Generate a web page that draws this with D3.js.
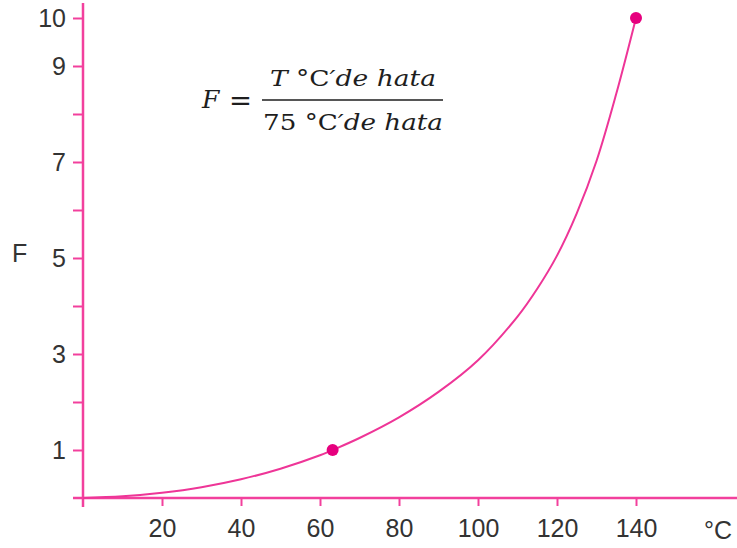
<!DOCTYPE html>
<html>
<head>
<meta charset="utf-8">
<script src="https://cdn.jsdelivr.net/npm/d3@7"></script>
<style>
  html, body { margin: 0; padding: 0; background: #fff; }
  svg { display: block; }
</style>
</head>
<body>
<svg id="chart" width="737" height="548"></svg>
<script>
// Temperature (°C) and relative lethality F along the curve
const temperatures = [0, 10, 20, 30, 40, 50, 60, 63.2, 70, 80, 90, 100, 110, 115, 120, 125, 130, 135, 140];
const fValues      = [0, 0.035, 0.11, 0.225, 0.39, 0.61, 0.89, 1.0, 1.25, 1.68, 2.21, 2.87, 3.78, 4.36, 5.05, 5.93, 7.02, 8.42, 10];
// Highlighted points on the curve
const markedT = [63.2, 140];
const markedF = [1, 10];
// Tick values and labels
const xTicks = [20, 40, 60, 80, 100, 120, 140];
const yTicks = [1, 2, 3, 4, 5, 6, 7, 8, 9, 10];
const yLabelled = [1, 3, 5, 7, 9, 10];

const axisColor = "#f2409d";
const curveColor = "#ee3597";
const dotColor = "#e6007e";
const textColor = "#333333";
const sans = "'Liberation Sans', Arial, sans-serif";

const svg = d3.select("#chart");
const x = d3.scaleLinear().domain([0, 140]).range([83, 636]);
const y = d3.scaleLinear().domain([0, 10]).range([498, 18]);

// Axes
const yAxis = d3.axisLeft(y)
  .tickValues(yTicks)
  .tickSize(10)
  .tickSizeOuter(0)
  .tickPadding(7)
  .tickFormat(d => yLabelled.includes(d) ? d : "");
const gy = svg.append("g").attr("transform", `translate(${x(0)},0)`).call(yAxis);
gy.select(".domain").remove();
gy.selectAll(".tick line").attr("stroke", axisColor).attr("stroke-width", 2);
gy.selectAll(".tick text")
  .attr("fill", textColor)
  .style("font-family", sans)
  .style("font-size", "25px");

const xAxis = d3.axisBottom(x)
  .tickValues(xTicks)
  .tickSize(8)
  .tickSizeOuter(0)
  .tickPadding(13)
  .tickFormat(d3.format("d"));
const gx = svg.append("g").attr("transform", `translate(0,${y(0)})`).call(xAxis);
gx.select(".domain").remove();
gx.selectAll(".tick line").attr("stroke", axisColor).attr("stroke-width", 2);
gx.selectAll(".tick text")
  .attr("fill", textColor)
  .style("font-family", sans)
  .style("font-size", "25px");

// Axis lines, extended past the origin
svg.append("line")
  .attr("x1", x(0) - 10).attr("x2", 737)
  .attr("y1", y(0)).attr("y2", y(0))
  .attr("stroke", axisColor).attr("stroke-width", 2.5);
svg.append("line")
  .attr("x1", x(0)).attr("x2", x(0))
  .attr("y1", y(0) + 9).attr("y2", 3)
  .attr("stroke", axisColor).attr("stroke-width", 2.5);

// Axis titles
svg.append("text")
  .attr("x", 12).attr("y", 262)
  .attr("fill", textColor)
  .style("font-family", sans)
  .style("font-size", "25px")
  .text("F");
svg.append("text")
  .attr("x", 732).attr("y", 539)
  .attr("text-anchor", "end")
  .attr("fill", textColor)
  .style("font-family", sans)
  .style("font-size", "25px")
  .text("°C");

// Curve
const line = d3.line()
  .x((d, i) => x(temperatures[i]))
  .y((d, i) => y(fValues[i]))
  .curve(d3.curveCatmullRom.alpha(0.5));
svg.append("path")
  .datum(fValues)
  .attr("d", line)
  .attr("fill", "none")
  .attr("stroke", curveColor)
  .attr("stroke-width", 2);

svg.selectAll("circle.mark")
  .data(markedT)
  .join("circle")
  .attr("class", "mark")
  .attr("cx", d => x(d))
  .attr("cy", (d, i) => y(markedF[i]))
  .attr("r", 6)
  .attr("fill", dotColor);

// Formula
const serif = "'DejaVu Serif', 'Liberation Serif', serif";
const formula = svg.append("g").attr("fill", "#1e1e1e");
formula.append("text")
  .attr("x", 202).attr("y", 108)
  .style("font-family", serif).style("font-style", "italic").style("font-size", "25px")
  .text("F");
formula.append("text")
  .attr("x", 229).attr("y", 110)
  .attr("textLength", 23).attr("lengthAdjust", "spacingAndGlyphs")
  .style("font-family", serif).style("font-size", "27px")
  .text("=");
formula.append("line")
  .attr("x1", 262).attr("x2", 443).attr("y1", 100).attr("y2", 100)
  .attr("stroke", "#1e1e1e").attr("stroke-width", 1.6);

function fractionPart(xPos, yPos, lead, width) {
  const t = formula.append("text")
    .attr("x", xPos).attr("y", yPos)
    .attr("textLength", width).attr("lengthAdjust", "spacingAndGlyphs")
    .style("font-family", serif).style("font-size", "22px");
  t.append("tspan").style("font-style", lead === "T" ? "italic" : "normal").text(lead + " ");
  t.append("tspan").text("°C");
  t.append("tspan").style("font-style", "italic").text("′de hata");
}
fractionPart(270, 86, "T", 166);
fractionPart(263, 130, "75", 180);
</script>
</body>
</html>
